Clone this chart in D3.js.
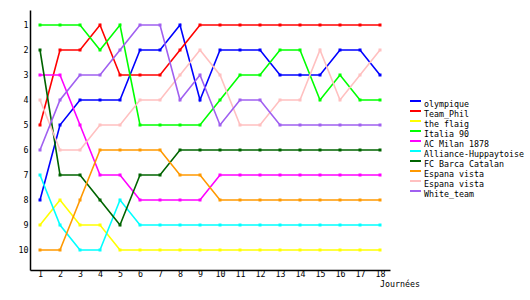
<!DOCTYPE html>
<html>
<head>
<meta charset="utf-8">
<script src="https://cdn.jsdelivr.net/npm/d3@7"></script>
<style>
  body { margin: 0; background: #fff; }
  text { font-family: "DejaVu Sans Mono", monospace; font-size: 8.3px; fill: #000; }
</style>
</head>
<body>
<svg width="530" height="300"></svg>
<script>
// rounds and ranks
var days = d3.range(1, 19);
var ranks = d3.range(1, 11);

var teams = ["olympique", "Team_Phil", "the flaig", "Italia 90", "AC Milan 1878",
    "Alliance-Huppaytoise", "FC Barca Catalan", "Espana vista", "Espana vista", "White_team"];
var colors = ["#0000ff", "#ff0000", "#ffff00", "#00ff00", "#ff00ff",
    "#00ffff", "#006400", "#ff9900", "#ffc0c0", "#a060f0"];

// rank of each team per round
var olympique = [8, 5, 4, 4, 4, 2, 2, 1, 4, 2, 2, 2, 3, 3, 3, 2, 2, 3];
var teamPhil  = [5, 2, 2, 1, 3, 3, 3, 2, 1, 1, 1, 1, 1, 1, 1, 1, 1, 1];
var theFlaig  = [9, 8, 9, 9, 10, 10, 10, 10, 10, 10, 10, 10, 10, 10, 10, 10, 10, 10];
var italia90  = [1, 1, 1, 2, 1, 5, 5, 5, 5, 4, 3, 3, 2, 2, 4, 3, 4, 4];
var acMilan   = [3, 3, 5, 7, 7, 8, 8, 8, 8, 7, 7, 7, 7, 7, 7, 7, 7, 7];
var alliance  = [7, 9, 10, 10, 8, 9, 9, 9, 9, 9, 9, 9, 9, 9, 9, 9, 9, 9];
var fcBarca   = [2, 7, 7, 8, 9, 7, 7, 6, 6, 6, 6, 6, 6, 6, 6, 6, 6, 6];
var espana1   = [10, 10, 8, 6, 6, 6, 6, 7, 7, 8, 8, 8, 8, 8, 8, 8, 8, 8];
var espana2   = [4, 6, 6, 5, 5, 4, 4, 3, 2, 3, 5, 5, 4, 4, 2, 4, 3, 2];
var whiteTeam = [6, 4, 3, 3, 2, 1, 1, 4, 3, 5, 4, 4, 5, 5, 5, 5, 5, 5];

var series = [olympique, teamPhil, theFlaig, italia90, acMilan,
    alliance, fcBarca, espana1, espana2, whiteTeam];

var svg = d3.select("svg");

var x = d3.scaleLinear().domain([0.5, 18.5]).range([30, 390]);
var y = d3.scaleLinear().domain([0.4, 10.8]).range([10, 270]);

// axes
var xAxis = svg.append("g")
    .attr("transform", "translate(0," + y(10.8) + ")")
    .call(d3.axisBottom(x).tickValues(days).tickSize(0).tickPadding(1.5).tickFormat(d3.format("d")));
var yAxis = svg.append("g")
    .attr("transform", "translate(" + x(0.5) + ",0)")
    .call(d3.axisLeft(y).tickValues(ranks).tickSize(0).tickPadding(1.5).tickFormat(d3.format("d")));

svg.selectAll(".domain").attr("stroke", "#000").attr("stroke-width", 1.5);
svg.selectAll(".tick text").attr("font-family", null).attr("font-size", null);
yAxis.selectAll(".tick text").attr("dy", "0.35em");

svg.append("text")
    .attr("x", 380)
    .attr("y", 287)
    .text("Journées");

// lines
var line = d3.line()
    .x(function (d, i) { return x(days[i]); })
    .y(function (d) { return y(d); });

series.forEach(function (values, k) {
    svg.append("path")
        .datum(values)
        .attr("fill", "none")
        .attr("stroke", colors[k])
        .attr("stroke-width", 1.6)
        .attr("d", line);

    svg.append("g").selectAll("rect")
        .data(values)
        .enter().append("rect")
        .attr("x", function (d, i) { return x(days[i]) - 1.5; })
        .attr("y", function (d) { return y(d) - 1.5; })
        .attr("width", 3)
        .attr("height", 3)
        .attr("fill", colors[k]);
});

// legend
var legend = svg.append("g")
    .selectAll("g")
    .data(teams)
    .enter().append("g")
    .attr("transform", function (d, i) { return "translate(410," + (101 + i * 10) + ")"; });

legend.append("rect")
    .attr("x", 0)
    .attr("y", -1)
    .attr("width", 11)
    .attr("height", 2)
    .attr("fill", function (d, i) { return colors[i]; });

legend.append("text")
    .attr("x", 14)
    .attr("y", 5.7)
    .text(function (d) { return d; });
</script>
</body>
</html>
